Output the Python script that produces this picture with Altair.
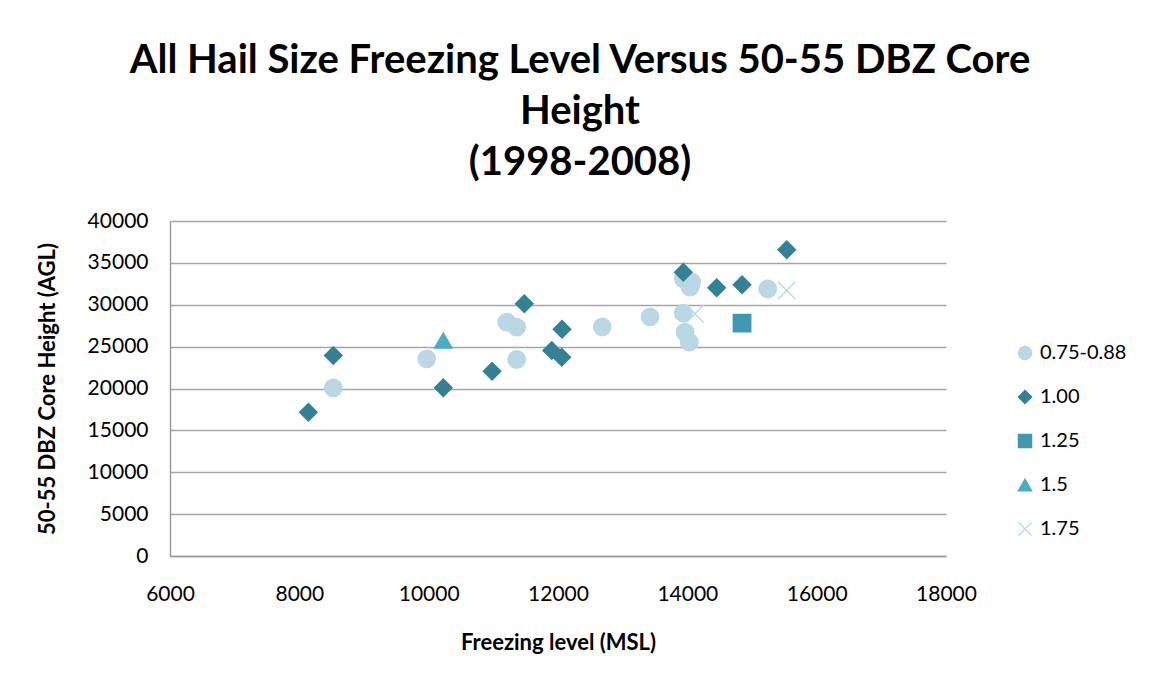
import altair as alt
import pandas as pd

# Series (hail size) data
c_x = [8525, 9970, 11207, 11361, 11361, 12685, 13423, 13938, 13964, 14031, 13938, 14068, 14042, 15243]
c_y = [20083, 23546, 27916, 27319, 23462, 27366, 28560, 28990, 26722, 25528, 33098, 32692, 32095, 31904]
d_x = [8140, 8525, 10226, 10980, 11479, 12062, 11903, 12058, 13938, 14454, 14846, 15537]
d_y = [17170, 23940, 20083, 22065, 30113, 27080, 24537, 23737, 33886, 32023, 32381, 36560]
s_x = [14846]
s_y = [27796]
t_x = [10226]
t_y = [25731]
x_x = [14119, 15537]
x_y = [28919, 31701]

series = ["0.75-0.88", "1.00", "1.25", "1.5", "1.75"]
colors = ["#B9D7E4", "#348196", "#4198B0", "#4BACC6", "#B7DEE8"]
shapes = ["circle", "diamond", "square", "triangle-up", "M-1,-1L1,1M-1,1L1,-1"]

rows = []
for name, xs, ys in zip(series, [c_x, d_x, s_x, t_x, x_x], [c_y, d_y, s_y, t_y, x_y]):
    for a, b in zip(xs, ys):
        rows.append({"freeze": a, "core": b, "size": name})
df = pd.DataFrame(rows)

title_lines = ["All Hail Size Freezing Level Versus 50-55 DBZ Core", "Height", "(1998-2008)"]

chart = alt.Chart(df).mark_point(filled=True, size=300, strokeWidth=1.5, opacity=1).encode(
    x=alt.X("freeze:Q", title="Freezing level (MSL)",
            scale=alt.Scale(domain=[6000, 18000], nice=False, zero=False),
            axis=alt.Axis(values=[6000, 8000, 10000, 12000, 14000, 16000, 18000], format="d",
                          grid=False, ticks=False, labelFlush=False, labelPadding=27, titlePadding=28)),
    y=alt.Y("core:Q", title="50-55 DBZ Core Height (AGL)",
            scale=alt.Scale(domain=[0, 40000], nice=False),
            axis=alt.Axis(values=[0, 5000, 10000, 15000, 20000, 25000, 30000, 35000, 40000], format="d",
                          grid=True, ticks=False, labelFlush=False, labelPadding=22, titlePadding=28)),
    color=alt.Color("size:N", scale=alt.Scale(domain=series, range=colors), title=None),
    stroke=alt.Stroke("size:N", scale=alt.Scale(domain=series, range=colors), title=None),
    shape=alt.Shape("size:N", scale=alt.Scale(domain=series, range=shapes), title=None),
).properties(
    width=776,
    height=335,
    autosize=alt.AutoSizeParams(type="none"),
    padding={"left": 162, "top": 213, "right": 190, "bottom": 100},
    background="#FFFFFF",
    title=alt.TitleParams(text=title_lines, fontSize=40, font="Lato",
                          fontWeight="bold", lineHeight=51, anchor="middle", dx=22,
                          offset=27, color="#000000"),
).configure_view(
    stroke=None
).configure_axis(
    labelFont="Lato", labelFontSize=21, labelColor="#000000",
    titleFont="Lato", titleFontSize=22, titleFontWeight="bold", titleColor="#000000",
    domainColor="#9A9A9A", gridColor="#A6A6A6", domainWidth=1.5, gridWidth=1.5,
).configure_legend(
    orient="none", legendX=845, legendY=122, labelFont="Lato", labelFontSize=20,
    labelColor="#000000", symbolSize=170, rowPadding=24, labelOffset=5, symbolStrokeWidth=1.5,
    padding=0,
)

chart.save("out.html", embed_options={"renderer": "svg", "actions": False})
